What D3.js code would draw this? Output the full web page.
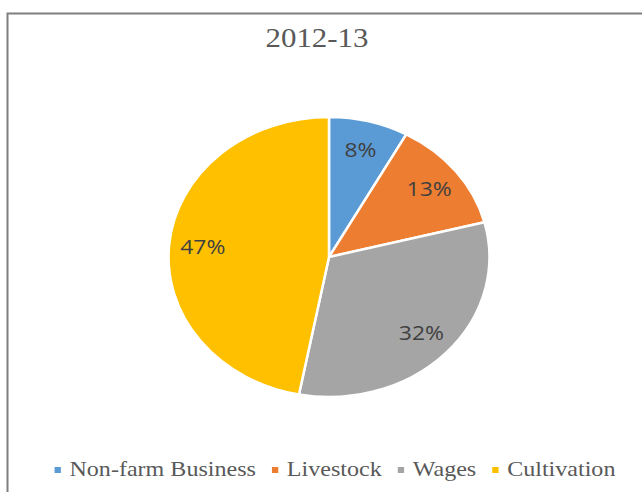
<!DOCTYPE html>
<html>
<head>
<meta charset="utf-8">
<script src="https://cdn.jsdelivr.net/npm/d3@7"></script>
<style>
  body { margin: 0; background: #fff; }
  svg { display: block; }
</style>
</head>
<body>
<div id="chart"></div>
<script>
// data
const title = "2012-13";
const categories = ["Non-farm Business", "Livestock", "Wages", "Cultivation"];
const values = [8, 13, 32, 47];
const colors = ["#5B9BD5", "#ED7D31", "#A5A5A5", "#FFC000"];

const width = 642, height = 492;
// the original picture is stretched sideways a bit
const sx = 1.146;
const cx = 329, cy = 257, radius = 140;

const svg = d3.select("#chart").append("svg")
    .attr("width", width)
    .attr("height", height);

// chart area border (cut off at right and bottom)
svg.append("path")
    .attr("d", "M7.5," + (height + 5) + "V13.5H" + (width + 5))
    .attr("fill", "none")
    .attr("stroke", "#7f7f7f")
    .attr("stroke-width", 2);

// title
svg.append("text")
    .attr("transform", "translate(317,47) scale(" + sx + ",1)")
    .attr("text-anchor", "middle")
    .style("font-family", "'Liberation Serif', 'DejaVu Serif', serif")
    .style("font-size", "27px")
    .style("fill", "#595959")
    .text(title);

const pie = d3.pie().sort(null).value(d => d.value);
const arc = d3.arc().innerRadius(0).outerRadius(radius);
const labelArc = d3.arc().innerRadius(radius * 0.79).outerRadius(radius * 0.79);

const data = categories.map((c, i) => ({ name: c, value: values[i], color: colors[i] }));
const arcs = pie(data);

const g = svg.append("g")
    .attr("transform", "translate(" + cx + "," + cy + ") scale(" + sx + ",1)");

g.selectAll("path")
    .data(arcs)
    .enter().append("path")
    .attr("d", arc)
    .attr("fill", d => d.data.color)
    .attr("stroke", "#fff")
    .attr("stroke-width", 2.5)
    .attr("vector-effect", "non-scaling-stroke");

const total = d3.sum(values);
g.selectAll("text")
    .data(arcs)
    .enter().append("text")
    .attr("x", d => labelArc.centroid(d)[0])
    .attr("y", d => labelArc.centroid(d)[1])
    .attr("dy", "0.36em")
    .attr("text-anchor", "middle")
    .style("font-family", "'Open Sans', 'DejaVu Sans', sans-serif")
    .style("font-size", "20px")
    .style("fill", "#404040")
    .text(d => Math.round(d.data.value / total * 100) + "%");

// legend
const legend = svg.append("g")
    .attr("transform", "translate(335,476) scale(" + sx + ",1)");

const items = legend.selectAll("g")
    .data(data)
    .enter().append("g");

items.append("rect")
    .attr("y", -9)
    .attr("width", 5.5)
    .attr("height", 6)
    .attr("fill", d => d.color);

items.append("text")
    .attr("x", 13)
    .style("font-family", "'Liberation Serif', 'DejaVu Serif', serif")
    .style("font-size", "21px")
    .style("fill", "#595959")
    .text(d => d.name);

// lay items out side by side, centred
let offset = 0;
const gap = 14;
const widths = [];
items.each(function() {
    widths.push(13 + d3.select(this).select("text").node().getComputedTextLength());
});
const totalW = d3.sum(widths) + gap * (widths.length - 1);
items.attr("transform", (d, i) => {
    const x = -totalW / 2 + offset;
    offset += widths[i] + gap;
    return "translate(" + x + ",0)";
});
</script>
</body>
</html>
